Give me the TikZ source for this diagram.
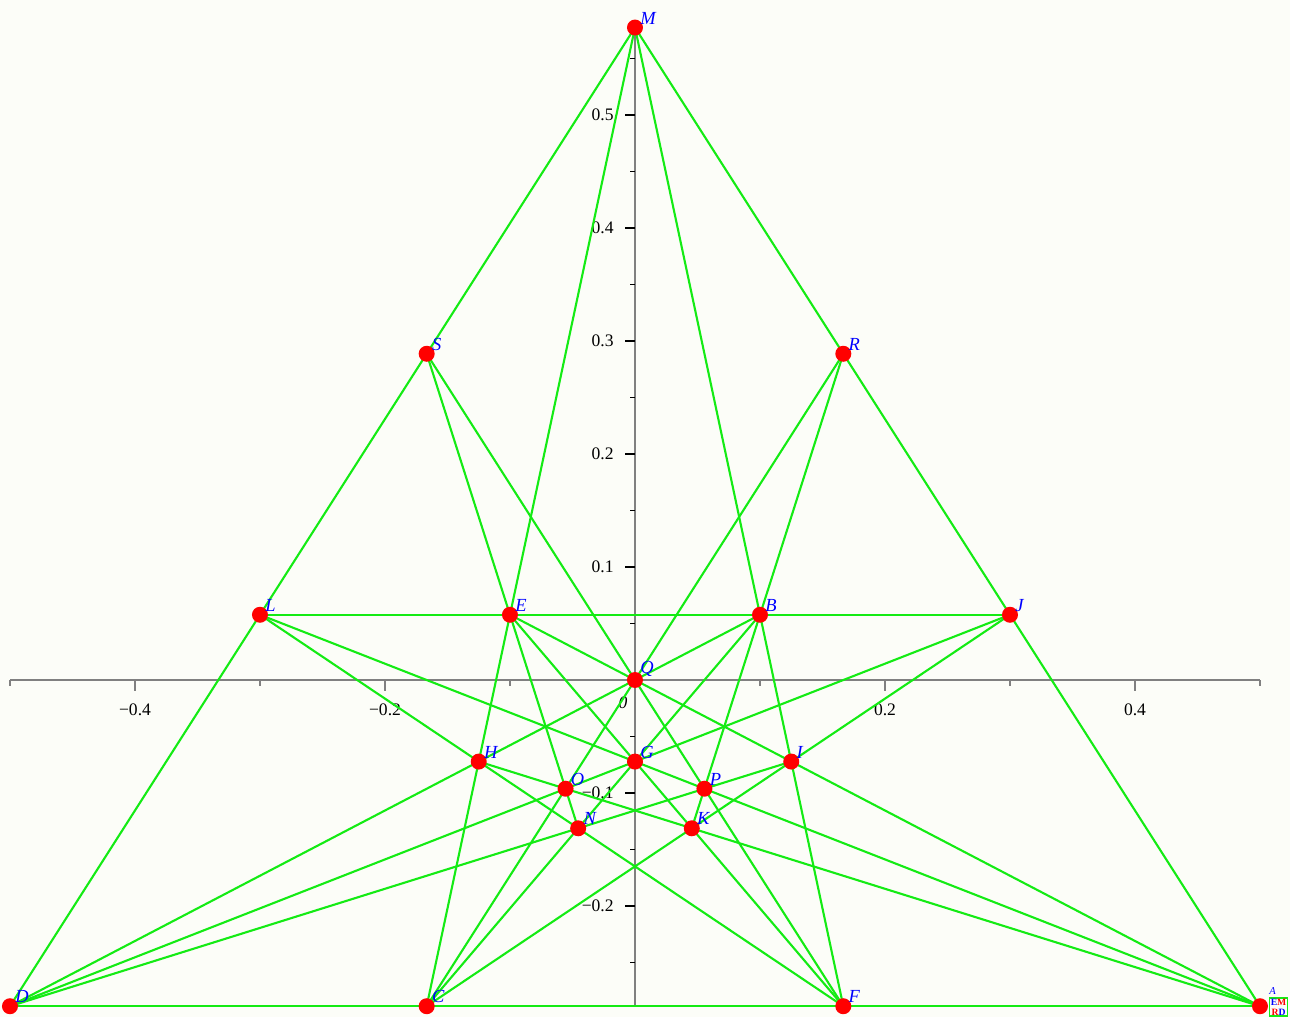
\documentclass[tikz,border=0pt]{standalone}
\usepackage{fontspec}
\setmainfont{Liberation Serif}
\usetikzlibrary{calc}
\definecolor{linegreen}{RGB}{20,235,20}
\definecolor{axisgray}{RGB}{128,128,128}
\definecolor{paper}{RGB}{252,253,248}

\begin{document}
\begin{tikzpicture}[x=25cm,y=22.6cm,edge/.style={draw=linegreen,line width=0.042cm,line join=round},vertex/.style={fill=red},lbl/.style={anchor=south west,inner sep=0pt,text=blue,font=\fontsize{10.5}{11}\selectfont\itshape,xshift=0.1cm,yshift=0.06cm},axis/.style={draw=axisgray,line width=0.03cm},num/.style={inner sep=0pt,font=\fontsize{10}{11}\selectfont}]
  \pgfmathsetmacro{\s}{1/(2*sqrt(3))}
  \fill[paper] (-0.508,-0.29823) rectangle (0.524,0.60177);
  \useasboundingbox (-0.508,-0.29823) rectangle (0.524,0.60177);
  % points of the figure
  \coordinate (M) at (0,2*\s);
  \coordinate (D) at (-0.5,-\s);
  \coordinate (A) at (0.5,-\s);
  \coordinate (S) at (-1/6,\s);
  \coordinate (R) at (1/6,\s);
  \coordinate (C) at (-1/6,-\s);
  \coordinate (F) at (1/6,-\s);
  \coordinate (L) at (-0.3,0.2*\s);
  \coordinate (J) at (0.3,0.2*\s);
  \coordinate (E) at (-0.1,0.2*\s);
  \coordinate (B) at (0.1,0.2*\s);
  \coordinate (Q) at (0,0);
  \coordinate (H) at (-0.125,-\s/4);
  \coordinate (I) at (0.125,-\s/4);
  \coordinate (G) at (0,-\s/4);
  \coordinate (O) at (-1/18,-\s/3);
  \coordinate (P) at (1/18,-\s/3);
  \coordinate (N) at (-1/22,-5*\s/11);
  \coordinate (K) at (1/22,-5*\s/11);
  % axes
  \draw[axis] (-0.5,0) -- (0.5,0);
  \draw[axis] (0,-\s) -- (M);
  \foreach \x/\t in {-0.4/−0.4,-0.2/−0.2,0.2/0.2,0.4/0.4} {
    \draw[axis] (\x,0) -- ++(0,-0.22cm);
    \node[num] at ($(\x,0)+(0,-0.6cm)$) {\t};
  }
  \foreach \x in {-0.5,-0.3,-0.1,0.1,0.3,0.5}
    \draw[axis] (\x,0) -- ++(0,-0.11cm);
  \foreach \y/\t in {-0.2/−0.2,-0.1/−0.1,0.1/0.1,0.2/0.2,0.3/0.3,0.4/0.4,0.5/0.5} {
    \draw[line width=0.03cm] (0,\y) -- ++(-0.2cm,0);
    \node[num,anchor=east] at ($(0,\y)+(-0.42cm,0)$) {\t};
  }
  \foreach \y in {-0.25,-0.15,-0.05,0.05,0.15,0.25,0.35,0.45,0.55}
    \draw[line width=0.03cm] (0,\y) -- ++(-0.1cm,0);
  \node[num] at ($(Q)+(-0.24cm,-0.46cm)$) {\itshape 0};
  % lines
  \draw[edge] (M) -- (S) -- (L) -- (D);
  \draw[edge] (M) -- (R) -- (J) -- (A);
  \draw[edge] (D) -- (C) -- (F) -- (A);
  \draw[edge] (M) -- (E) -- (H) -- (C);
  \draw[edge] (M) -- (B) -- (I) -- (F);
  \draw[edge] (S) -- (E) -- (O) -- (N);
  \draw[edge] (R) -- (B) -- (P) -- (K);
  \draw[edge] (S) -- (Q) -- (P) -- (F);
  \draw[edge] (R) -- (Q) -- (O) -- (C);
  \draw[edge] (L) -- (E) -- (B) -- (J);
  \draw[edge] (L) -- (H) -- (N) -- (F);
  \draw[edge] (J) -- (I) -- (K) -- (C);
  \draw[edge] (L) -- (G) -- (P) -- (A);
  \draw[edge] (J) -- (G) -- (O) -- (D);
  \draw[edge] (E) -- (Q) -- (I) -- (A);
  \draw[edge] (B) -- (Q) -- (H) -- (D);
  \draw[edge] (E) -- (G) -- (K) -- (F);
  \draw[edge] (B) -- (G) -- (N) -- (C);
  \draw[edge] (D) -- (N) -- (P) -- (I);
  \draw[edge] (A) -- (K) -- (O) -- (H);
  % dots and names
  \foreach \p in {M,D,A,S,R,C,F,L,J,E,B,Q,H,I,G,O,P,N,K}
    \fill[vertex] (\p) circle (0.16cm);
  \foreach \p in {M,D,S,R,C,F,L,J,E,B,Q,H,I,G,O,P,N,K}
    \node[lbl] at (\p) {\p};
  \node[lbl,font=\fontsize{6}{6}\selectfont\itshape,xshift=0.08cm,yshift=0.16cm] at (A) {A};
  \node[draw=linegreen,line width=0.03cm,inner sep=0.02cm,anchor=west,align=center,font=\fontsize{5.5}{5.5}\selectfont\bfseries] (key) at ($(A)+(0.18cm,-0.02cm)$) {\textcolor{blue}{E}\textcolor{red}{M}\\\textcolor{red}{R}\textcolor{blue}{D}};
\end{tikzpicture}
\end{document}
